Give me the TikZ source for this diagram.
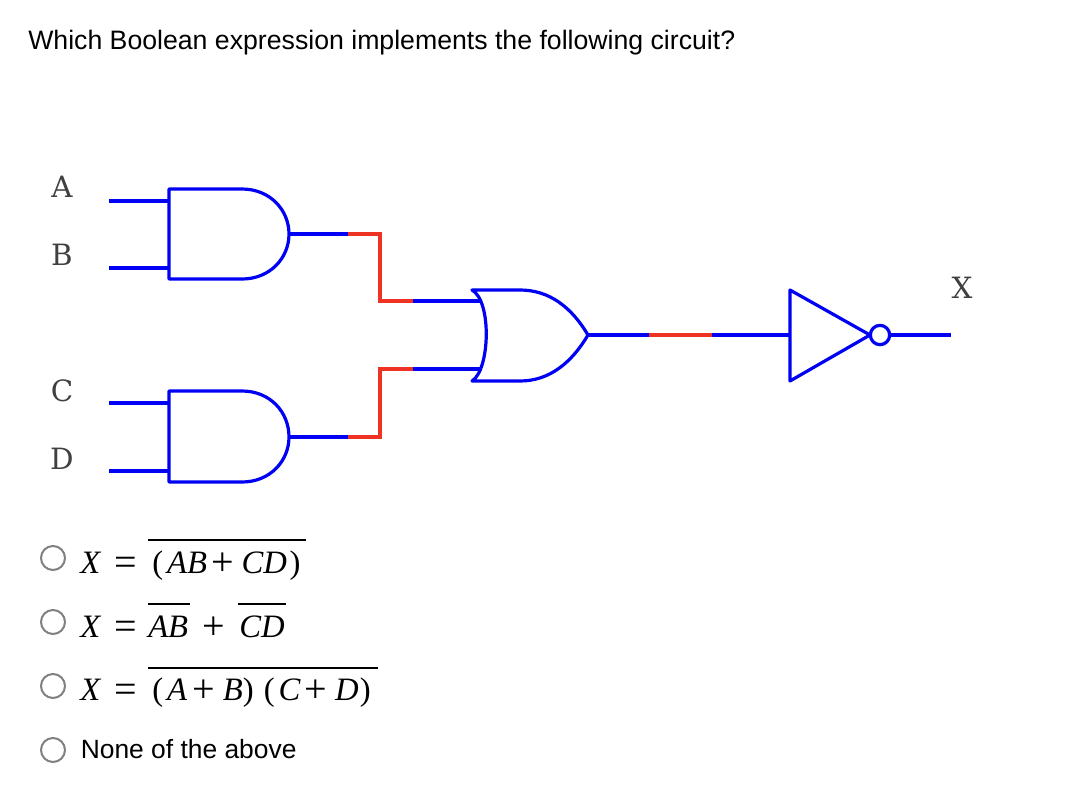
\documentclass[tikz,border=0pt]{standalone}
\usepackage{fontspec}
\setmainfont{Liberation Sans}
\newfontfamily\mathserif{Liberation Serif}
\newfontfamily\pinserif{DejaVu Serif}
\usetikzlibrary{positioning}

\definecolor{wireblue}{RGB}{0,0,245}
\definecolor{wirered}{RGB}{238,50,36}
\definecolor{radiogray}{RGB}{128,128,128}
\newcommand{\pl}{\raisebox{-1.5pt}{\fontsize{30}{30}\selectfont\upshape +}}
\newcommand{\eq}{\raisebox{-1.5pt}{\fontsize{30}{30}\selectfont\upshape =}}
\tikzset{
    wire/.style = {draw=wireblue, line width=2.4pt},
    redwire/.style = {draw=wirered, line width=3.2pt, line join=miter},
    gate/.style = {draw=wireblue, line width=2.4pt, line join=round, fill=white},
    pin/.style = {font=\pinserif\fontsize{22}{22}\selectfont, inner sep=0pt, text=black!75},
    radio/.style = {draw=radiogray, line width=1.5pt, circle, minimum size=18pt, inner sep=0pt},
    formula/.style = {font=\mathserif\fontsize{24.5}{24.5}\selectfont\itshape, anchor=base west, inner sep=0pt},
    bar/.style = {draw=black, line width=1.6pt}
}

\begin{document}
\begin{tikzpicture}[x=0.75pt, y=-0.75pt]
    \useasboundingbox (0,0) rectangle (1068,786);

    \node[anchor=base west, inner sep=0pt, font=\fontsize{20}{20}\selectfont] (title) at (28,49)
        {Which Boolean expression implements the following circuit?};

    % input labels
    \node[pin] (a) at (62,187) {A};
    \node[pin] (b) at (62,255) {B};
    \node[pin] (c) at (62,391) {C};
    \node[pin] (d) at (62,459) {D};
    \node[pin] (x) at (962,288) {X};

    % free ends of the wires
    \coordinate (ina) at (109,201);
    \coordinate (inb) at (109,268);
    \coordinate (inc) at (109,403);
    \coordinate (ind) at (109,471);
    \coordinate (outx) at (951,335);

    % gates
    \draw[gate] (169,189) -- (242,189) .. controls (270,189) and (289,210) .. (289,234)
        .. controls (289,258) and (270,279) .. (242,279) -- (169,279) -- cycle;
    \draw[gate] (169,391) -- (242,391) .. controls (270,391) and (289,412) .. (289,437)
        .. controls (289,461) and (270,482) .. (242,482) -- (169,482) -- cycle;
    \draw[gate] (472,290) -- (520,290) .. controls (550,290) and (572,308) .. (588,335)
        .. controls (572,362) and (550,381) .. (520,381) -- (472,381)
        .. controls (490,370) and (492,301) .. (472,290) -- cycle;
    \draw[gate] (790,290) -- (870,335) -- (790,381) -- cycle;
    \node[draw=wireblue, line width=2.4pt, circle, minimum size=14.5pt, inner sep=0pt] (bubble) at (880,335) {};

    % gate pins
    \coordinate (and1a) at (169,201);
    \coordinate (and1b) at (169,268);
    \coordinate (and1out) at (289,234);
    \coordinate (and2a) at (169,403);
    \coordinate (and2b) at (169,471);
    \coordinate (and2out) at (289,437);
    \coordinate (ora) at (482,301);
    \coordinate (orb) at (482,369);
    \coordinate (orout) at (588,335);
    \coordinate (notin) at (790,335);

    % red segments
    \coordinate (r1s) at (348,234);
    \coordinate (r1e) at (413,301);
    \coordinate (r2s) at (348,437);
    \coordinate (r2e) at (413,369);
    \coordinate (r3s) at (649,335);
    \coordinate (r3e) at (712,335);

    \draw[wire] (ina) -- (and1a);
    \draw[wire] (inb) -- (and1b);
    \draw[wire] (inc) -- (and2a);
    \draw[wire] (ind) -- (and2b);
    \draw[wire] (and1out) -- (r1s);
    \draw[wire] (and2out) -- (r2s);
    \draw[wire] (r1e) -- (ora);
    \draw[wire] (r2e) -- (orb);
    \draw[wire] (orout) -- (r3s);
    \draw[wire] (r3e) -- (notin);
    \draw[wire] (bubble) -- (outx);
    \draw[redwire] (r1s) -- (380,234) -- (380,301) -- (r1e);
    \draw[redwire] (r2s) -- (380,437) -- (380,369) -- (r2e);
    \draw[redwire] (r3s) -- (r3e);

    % answers
    \node[radio] (o1) at (53,558) {};
    \node[radio] (o2) at (53,622) {};
    \node[radio] (o3) at (53,686) {};
    \node[radio] (o4) at (53,750) {};

    \node[formula] (x1) at (80,573) {X\hspace{10.5pt}\eq};
    \node[formula] (e1) at (152,573) {\textup{(}\hspace{3pt}AB\hspace{3.5pt}\pl\hspace{5.5pt}CD\hspace{2pt}\textup{)}};
    \node[formula] (x2) at (80,637) {X\hspace{10.5pt}\eq};
    \node[formula] (e2) at (148,637) {AB\hspace{10.5pt}\pl\hspace{11pt}CD};
    \node[formula] (x3) at (80,700) {X\hspace{10.5pt}\eq};
    \node[formula] (e3) at (152,700) {\textup{(}\hspace{3pt}A\hspace{4pt}\pl\hspace{6pt}B\textup{)}\hspace{7.5pt}\textup{(}\hspace{3pt}C\hspace{3pt}\pl\hspace{6pt}D\hspace{1pt}\textup{)}};
    \node[anchor=base west, inner sep=0pt, font=\fontsize{19.8}{19.8}\selectfont] (none) at (80.5,758) {None of the above};

    \draw[bar] (148,540) -- (306,540);
    \draw[bar] (148,604) -- (190,604);
    \draw[bar] (238,604) -- (286,604);
    \draw[bar] (148,668) -- (378,668);
\end{tikzpicture}
\end{document}
